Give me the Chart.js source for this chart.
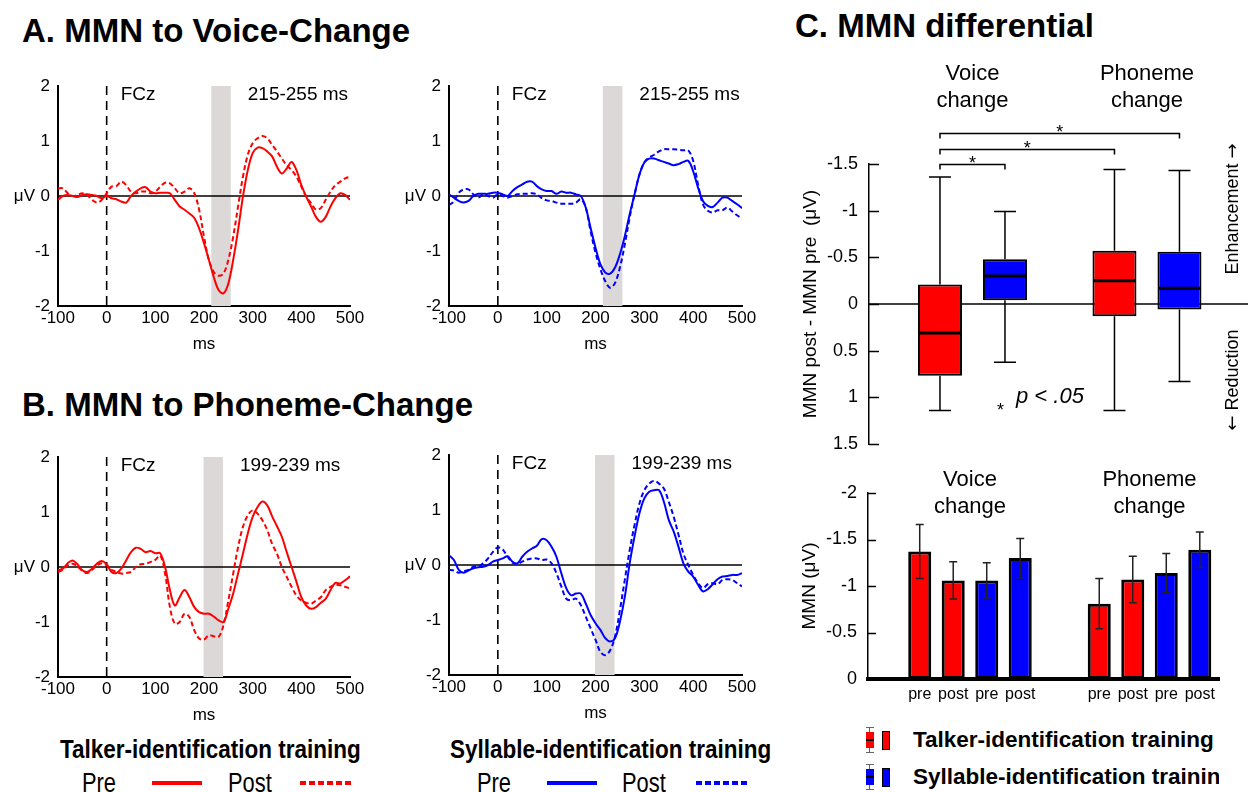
<!DOCTYPE html>
<html>
<head>
<meta charset="utf-8">
<script src="https://cdn.jsdelivr.net/npm/chart.js@4.4.1/dist/chart.umd.min.js"></script>
<style>
  body { margin: 0; width: 1248px; height: 792px; background: #fff; position: relative; overflow: hidden;
         font-family: "Liberation Sans", Arial, sans-serif; color: #000; }
  canvas { position: absolute; }
  .t { position: absolute; white-space: nowrap; line-height: 1; }
  .title { font-weight: bold; font-size: 33px; }
  .cond { transform-origin: 0 0; }
  .ico { position: absolute; }
</style>
</head>
<body>
<div class="t title" style="left:22px;top:14px">A. MMN to Voice-Change</div>
<div class="t title" style="left:22px;top:388px">B. MMN to Phoneme-Change</div>
<div class="t title" style="left:795px;top:9px">C. MMN differential</div>

<canvas id="aTalker"></canvas>
<canvas id="aSyllable"></canvas>
<canvas id="bTalker"></canvas>
<canvas id="bSyllable"></canvas>
<canvas id="diffBox"></canvas>
<canvas id="mmnBars"></canvas>

<!-- legends under the ERP panels -->
<div class="t cond" style="left:60px;top:736px;font-weight:bold;font-size:26px;transform:scaleX(.865)">Talker-identification training</div>
<div class="t cond" style="left:82px;top:770px;font-size:27px;transform:scaleX(.81)">Pre</div>
<div class="ico" style="left:152px;top:781px;width:50px;height:4px;background:#ff0000"></div>
<div class="t cond" style="left:228px;top:770px;font-size:27px;transform:scaleX(.81)">Post</div>
<div class="ico" style="left:300px;top:781px;width:52px;height:4px;background:repeating-linear-gradient(90deg,#ff0000 0 6px,transparent 6px 9px)"></div>

<div class="t cond" style="left:450px;top:736px;font-weight:bold;font-size:26px;transform:scaleX(.865)">Syllable-identification training</div>
<div class="t cond" style="left:477px;top:770px;font-size:27px;transform:scaleX(.81)">Pre</div>
<div class="ico" style="left:547px;top:781px;width:50px;height:4px;background:#0000ff"></div>
<div class="t cond" style="left:622px;top:770px;font-size:27px;transform:scaleX(.81)">Post</div>
<div class="ico" style="left:696px;top:781px;width:52px;height:4px;background:repeating-linear-gradient(90deg,#0000ff 0 6px,transparent 6px 9px)"></div>

<div id="legendC"></div>

<script>
// ---- ERP waveforms at FCz (μV), sampled every 10 ms ----
const times = [-100, -90, -80, -70, -60, -50, -40, -30, -20, -10,
  0, 10, 20, 30, 40, 50, 60, 70, 80, 90,
  100, 110, 120, 130, 140, 150, 160, 170, 180, 190,
  200, 210, 220, 230, 240, 250, 260, 270, 280, 290,
  300, 310, 320, 330, 340, 350, 360, 370, 380, 390,
  400, 410, 420, 430, 440, 450, 460, 470, 480, 490, 500];

const voiceTalkerPre = [-0.07, 0, 0.02, 0, -0.02, 0.02, 0.03, 0.02, 0, -0.04,
  0, -0.04, -0.06, -0.1, -0.12, 0, 0.08, 0.14, 0.16, 0.08,
  0.05, 0.06, 0.06, 0.05, -0.07, -0.19, -0.25, -0.32, -0.4, -0.59,
  -0.86, -1.16, -1.47, -1.71, -1.77, -1.59, -1.16, -0.62, -0.01, 0.47,
  0.78, 0.88, 0.87, 0.81, 0.72, 0.53, 0.41, 0.5, 0.62, 0.47,
  0.2, -0.01, -0.19, -0.38, -0.47, -0.38, -0.19, -0.04, 0.05, 0.02, -0.07];
const voiceTalkerPost = [0.14, 0.14, 0.05, 0, 0.02, 0.05, 0.02, -0.07, -0.12, -0.07,
  0.05, 0.17, 0.18, 0.26, 0.2, 0.08, 0.05, 0.08, 0.08, 0.05,
  0.08, 0.17, 0.24, 0.23, 0.14, 0.05, 0.08, 0.14, 0.05, -0.25,
  -0.74, -1.16, -1.38, -1.45, -1.41, -1.16, -0.74, -0.19, 0.35, 0.75,
  0.96, 1.05, 1.09, 1.05, 0.93, 0.81, 0.68, 0.56, 0.47, 0.35,
  0.17, -0.01, -0.13, -0.25, -0.22, -0.07, 0.08, 0.2, 0.26, 0.32, 0.35];
const voiceSyllablePre = [0.03, -0.03, -0.09, -0.12, -0.09, 0, 0.04, 0.04, 0.04, 0.06,
  0.06, 0.03, 0, 0.09, 0.16, 0.21, 0.26, 0.26, 0.18, 0.12,
  0.09, 0.09, 0.04, 0.08, 0.06, 0.06, 0.03, 0, -0.21, -0.58,
  -0.94, -1.24, -1.39, -1.41, -1.3, -1.06, -0.73, -0.33, 0.03, 0.39,
  0.61, 0.68, 0.68, 0.65, 0.62, 0.59, 0.56, 0.58, 0.62, 0.64,
  0.45, 0.15, -0.09, -0.18, -0.2, -0.12, -0.03, -0.03, -0.09, -0.15, -0.22];
const voiceSyllablePost = [-0.16, -0.1, 0.06, 0.12, 0.12, 0.03, -0.03, 0.03, 0, -0.03,
  0.03, 0, -0.03, 0, 0.03, 0.04, 0.04, 0.05, 0.03, -0.04,
  -0.08, -0.09, -0.12, -0.14, -0.14, -0.14, -0.12, -0.06, -0.21, -0.64,
  -1.03, -1.33, -1.55, -1.67, -1.58, -1.3, -0.88, -0.39, 0.03, 0.39,
  0.61, 0.7, 0.75, 0.81, 0.85, 0.85, 0.85, 0.84, 0.83, 0.83,
  0.64, 0.21, -0.15, -0.27, -0.3, -0.26, -0.26, -0.21, -0.28, -0.35, -0.41];
const phonemeTalkerPre = [-0.06, -0.03, 0.07, 0.12, 0.05, -0.06, -0.09, -0.03, 0.06, 0.11,
  0.05, -0.09, -0.11, -0.03, 0.12, 0.27, 0.35, 0.33, 0.27, 0.29,
  0.25, 0.25, 0, -0.42, -0.7, -0.55, -0.42, -0.55, -0.73, -0.82,
  -0.85, -0.85, -0.9, -0.97, -1.0, -0.76, -0.48, -0.12, 0.24, 0.61,
  0.91, 1.09, 1.19, 1.12, 0.92, 0.74, 0.55, 0.27, 0, -0.27,
  -0.55, -0.7, -0.76, -0.73, -0.65, -0.58, -0.42, -0.29, -0.3, -0.24, -0.17];
const phonemeTalkerPost = [-0.09, -0.05, 0.03, 0.06, 0.01, -0.07, -0.11, -0.05, 0.03, 0.07,
  0.03, -0.05, -0.09, -0.12, -0.11, -0.09, 0, 0.05, 0.06, 0.09,
  0.13, 0.21, -0.12, -0.73, -1.03, -1.0, -0.85, -0.91, -1.15, -1.3,
  -1.32, -1.24, -1.26, -1.27, -1.06, -0.61, -0.12, 0.36, 0.73, 0.94,
  1.03, 0.97, 0.85, 0.67, 0.42, 0.24, 0, -0.18, -0.36, -0.52,
  -0.61, -0.65, -0.67, -0.61, -0.55, -0.42, -0.36, -0.33, -0.33, -0.36, -0.39];
const phonemeSyllablePre = [0.18, 0.09, -0.09, -0.14, -0.1, -0.06, -0.04, -0.03, 0, 0.06,
  0.09, 0.12, 0.16, 0.06, 0.03, 0.15, 0.24, 0.3, 0.35, 0.47,
  0.45, 0.33, 0.15, -0.15, -0.42, -0.55, -0.52, -0.52, -0.7, -0.91,
  -1.06, -1.18, -1.33, -1.39, -1.33, -1.03, -0.58, 0.03, 0.52, 0.94,
  1.21, 1.33, 1.36, 1.36, 1.15, 0.82, 0.61, 0.33, 0.03, -0.12,
  -0.21, -0.36, -0.48, -0.44, -0.35, -0.26, -0.21, -0.2, -0.18, -0.18, -0.15];
const phonemeSyllablePost = [-0.09, -0.1, -0.14, -0.11, -0.09, -0.03, -0.02, 0.03, 0.12, 0.24,
  0.32, 0.28, 0.15, 0.04, 0.02, 0.06, 0.1, 0.12, 0.12, 0.09,
  0.1, 0.03, -0.15, -0.39, -0.61, -0.64, -0.61, -0.73, -0.94, -1.15,
  -1.36, -1.58, -1.64, -1.55, -1.3, -0.82, -0.27, 0.27, 0.73, 1.12,
  1.36, 1.48, 1.53, 1.48, 1.39, 1.15, 0.88, 0.55, 0.21, 0,
  -0.18, -0.33, -0.42, -0.35, -0.33, -0.35, -0.27, -0.26, -0.27, -0.33, -0.39];

const voiceWindow = [215, 255];
const phonemeWindow = [199, 239];

// ---- C: MMN differential boxplots (post - pre, μV) ----
const groups = ['Voice change', 'Phoneme change'];
const groupX = [1, 2];
// [upper whisker, box top, median, box bottom, lower whisker]
const talkerBox = [[-1.36, -0.21, 0.31, 0.77, 1.14], [-1.44, -0.57, -0.25, 0.13, 1.14]];
const syllableBox = [[-0.99, -0.48, -0.30, -0.04, 0.625], [-1.43, -0.56, -0.17, 0.06, 0.83]];

// ---- C: MMN amplitudes (μV) with error bars ----
const stageLabels = ['pre', 'post', 'pre', 'post'];
const talkerPre = [-1.37, -0.81];
const talkerPost = [-1.06, -1.07];
const syllablePre = [-1.06, -1.14];
const syllablePost = [-1.30, -1.39];
const talkerPreErr = [0.29, 0.27];
const talkerPostErr = [0.20, 0.25];
const syllablePreErr = [0.19, 0.21];
const syllablePostErr = [0.21, 0.19];

const RED = '#ff0000', BLUE = '#0000ff';
const FONT = "'Liberation Sans', Arial, sans-serif";
Chart.defaults.font.family = FONT;
Chart.defaults.color = '#000';

// plain tick text: -1 rather than -1.0
const plainTick = v => String(Math.round(v * 10) / 10);

function fitCanvas(el, area, pad, axisW, axisH) {
  el.width = pad.left + axisW + (area[2] - area[0]) + pad.right;
  el.height = pad.top + (area[3] - area[1]) + axisH + pad.bottom;
  el.style.left = (area[0] - axisW - pad.left) + 'px';
  el.style.top = (area[1] - pad.top) + 'px';
}

const erpMarks = {
  id: 'erp',
  beforeDatasetsDraw(chart, args, opts) {
    const { ctx, chartArea: a, scales: { x, y } } = chart;
    ctx.save();
    const x0 = x.getPixelForValue(opts.win[0]), x1 = x.getPixelForValue(opts.win[1]);
    ctx.fillStyle = '#dcd8d8';
    ctx.fillRect(x0, a.top, x1 - x0, a.bottom - a.top);
    ctx.strokeStyle = '#000';
    ctx.lineWidth = 1.6;
    const y0 = y.getPixelForValue(0);
    ctx.beginPath(); ctx.moveTo(a.left, y0); ctx.lineTo(a.right, y0); ctx.stroke();
    const xz = x.getPixelForValue(0);
    ctx.setLineDash([9, 6]);
    ctx.beginPath(); ctx.moveTo(xz, a.top); ctx.lineTo(xz, a.bottom); ctx.stroke();
    ctx.restore();
  },
  afterDraw(chart, args, opts) {
    const { ctx, chartArea: a, scales: { x, y } } = chart;
    ctx.save();
    ctx.fillStyle = '#000';
    ctx.textBaseline = 'middle';
    ctx.font = '19px ' + FONT;
    ctx.textAlign = 'left';
    ctx.fillText('FCz', x.getPixelForValue(0) + 14, a.top + 9);
    ctx.fillText(opts.win[0] + '-' + opts.win[1] + ' ms', x.getPixelForValue(opts.win[1]) + 17, a.top + 9);
    ctx.font = '17px ' + FONT;
    ctx.textAlign = 'right';
    ctx.fillText('μV', a.left - 23, y.getPixelForValue(0));
    ctx.restore();
  }
};

function erpChart(id, area, pre, post, color, win) {
  const el = document.getElementById(id);
  const pad = { left: 4, top: 20, right: 22, bottom: 4 };
  const axisW = 46, axisH = 50;
  fitCanvas(el, area, pad, axisW, axisH);
  return new Chart(el, {
    type: 'line',
    data: {
      labels: times,
      datasets: [
        { label: 'Pre', data: pre, borderColor: color, borderWidth: 2, pointRadius: 0, tension: 0.35 },
        { label: 'Post', data: post, borderColor: color, borderWidth: 2, borderDash: [5, 3], pointRadius: 0, tension: 0.35 }
      ]
    },
    options: {
      responsive: false, devicePixelRatio: 1, animation: false,
      layout: { padding: pad },
      plugins: { legend: { display: false }, tooltip: { enabled: false }, erp: { win } },
      scales: {
        x: {
          type: 'linear', min: -100, max: 500,
          ticks: { stepSize: 100, padding: 2, maxRotation: 0, font: { size: 17 } },
          grid: { display: false, drawTicks: false },
          border: { color: '#000', width: 2 },
          title: { display: true, text: 'ms', font: { size: 17 }, padding: { top: 0, bottom: 1 } },
          afterFit(s) { s.height = axisH; }
        },
        y: {
          min: -2, max: 2,
          ticks: { stepSize: 1, padding: 8, font: { size: 17 } },
          grid: { display: false, drawTicks: false },
          border: { color: '#000', width: 2 },
          afterFit(s) { s.width = axisW; }
        }
      }
    },
    plugins: [erpMarks]
  });
}

erpChart('aTalker', [58, 86, 350, 306], voiceTalkerPre, voiceTalkerPost, RED, voiceWindow);
erpChart('aSyllable', [449, 86, 742, 306], voiceSyllablePre, voiceSyllablePost, BLUE, voiceWindow);
erpChart('bTalker', [58, 457, 350, 677], phonemeTalkerPre, phonemeTalkerPost, RED, phonemeWindow);
erpChart('bSyllable', [449, 455, 742, 675], phonemeSyllablePre, phonemeSyllablePost, BLUE, phonemeWindow);

// shared helpers for panel C
function drawInwardTicks(chart, len) {
  const { ctx, chartArea: a, scales: { y } } = chart;
  ctx.save();
  ctx.strokeStyle = '#000'; ctx.lineWidth = 1.5;
  y.ticks.forEach(t => {
    const py = Math.round(y.getPixelForValue(t.value)) + 0.5;
    ctx.beginPath(); ctx.moveTo(a.left, py); ctx.lineTo(a.left + len, py); ctx.stroke();
  });
  ctx.restore();
}
function drawGroupLabels(chart, y1, y2) {
  const { ctx, scales: { x } } = chart;
  ctx.save();
  ctx.fillStyle = '#000'; ctx.font = '22px ' + FONT;
  ctx.textAlign = 'center'; ctx.textBaseline = 'middle';
  groups.forEach((g, i) => {
    const [w1, w2] = g.split(' ');
    const px = x.getPixelForValue(groupX[i]);
    ctx.fillText(w1, px, y1);
    ctx.fillText(w2, px, y2);
  });
  ctx.restore();
}
// rotated label with a DejaVu arrow (Liberation's arrow is tiny)
function drawArrowLabel(ctx, word, arrowFirst, cx, cy) {
  ctx.save();
  ctx.translate(cx, cy);
  ctx.rotate(-Math.PI / 2);
  ctx.textBaseline = 'middle';
  ctx.textAlign = 'left';
  const wf = '18px ' + FONT, af = "18px 'DejaVu Sans', sans-serif";
  ctx.font = wf; const ww = ctx.measureText(word).width, sp = ctx.measureText(' ').width;
  ctx.font = af; const aw = ctx.measureText('\u2192').width;
  let px = -(ww + sp + aw) / 2;
  const parts = arrowFirst ? [['\u2190', af, aw], [word, wf, ww]] : [[word, wf, ww], ['\u2192', af, aw]];
  parts.forEach(([s, f, w], k) => {
    ctx.font = f; ctx.fillText(s, px, 0);
    px += w + (k === 0 ? sp : 0);
  });
  ctx.restore();
}

// ---- boxplot (floating bars + whiskers) ----
const boxStats = [talkerBox, syllableBox];
const sigPairs = [[[0, 0], [1, 0]], [[0, 0], [0, 1]], [[0, 0], [1, 1]]];

const boxMarks = {
  id: 'boxMarks',
  beforeDatasetsDraw(chart) {
    const { ctx, chartArea: a, scales: { y } } = chart;
    ctx.save();
    ctx.strokeStyle = '#000'; ctx.lineWidth = 1.5;
    const y0 = y.getPixelForValue(0);
    ctx.beginPath(); ctx.moveTo(a.left, y0); ctx.lineTo(a.right, y0); ctx.stroke();
    ctx.restore();
  },
  afterDatasetsDraw(chart) {
    const { ctx, scales: { y } } = chart;
    ctx.save();
    ctx.strokeStyle = '#000';
    boxStats.forEach((stats, di) => {
      chart.getDatasetMeta(di).data.forEach((bar, i) => {
        const s = stats[i], x = bar.x, hw = bar.width / 2;
        ctx.lineWidth = 1.5;
        ctx.beginPath();
        ctx.moveTo(x, y.getPixelForValue(s[0])); ctx.lineTo(x, y.getPixelForValue(s[1]));
        ctx.moveTo(x, y.getPixelForValue(s[3])); ctx.lineTo(x, y.getPixelForValue(s[4]));
        ctx.moveTo(x - 11, y.getPixelForValue(s[0])); ctx.lineTo(x + 11, y.getPixelForValue(s[0]));
        ctx.moveTo(x - 11, y.getPixelForValue(s[4])); ctx.lineTo(x + 11, y.getPixelForValue(s[4]));
        ctx.stroke();
        ctx.lineWidth = 3;
        ctx.beginPath();
        ctx.moveTo(x - hw + 1, y.getPixelForValue(s[2])); ctx.lineTo(x + hw - 1, y.getPixelForValue(s[2]));
        ctx.stroke();
      });
    });
    ctx.restore();
  },
  afterDraw(chart) {
    const { ctx, chartArea: a, scales: { y } } = chart;
    drawInwardTicks(chart, 10);
    drawGroupLabels(chart, a.top - 90, a.top - 63);
    ctx.save();
    ctx.strokeStyle = '#000'; ctx.fillStyle = '#000'; ctx.lineWidth = 1.5;
    ctx.textAlign = 'center'; ctx.textBaseline = 'alphabetic';
    sigPairs.forEach((p, k) => {
      const b1 = chart.getDatasetMeta(p[0][0]).data[p[0][1]];
      const b2 = chart.getDatasetMeta(p[1][0]).data[p[1][1]];
      const by = Math.round(a.top - k * 15.5) + 0.5;
      ctx.beginPath();
      ctx.moveTo(b1.x, by + 5); ctx.lineTo(b1.x, by); ctx.lineTo(b2.x, by); ctx.lineTo(b2.x, by + 5);
      ctx.stroke();
      ctx.font = '18px ' + FONT;
      ctx.fillText('*', (b1.x + b2.x) / 2, by + 4);
    });
    // significance note
    ctx.textAlign = 'left';
    ctx.font = '18px ' + FONT;
    ctx.fillText('*', a.left + 128, y.getPixelForValue(1.1) + 9);
    ctx.font = 'italic 22px ' + FONT;
    ctx.textBaseline = 'middle';
    ctx.fillText('p < .05', a.left + 147, y.getPixelForValue(1.0));
    ctx.restore();
    // direction labels
    const y0 = y.getPixelForValue(0);
    ctx.fillStyle = '#000';
    drawArrowLabel(ctx, 'Enhancement', false, a.right - 15, y0 - 95);
    drawArrowLabel(ctx, 'Reduction', true, a.right - 15, y0 + 76);
  }
};

(function () {
  const el = document.getElementById('diffBox');
  const pad = { left: 0, top: 109, right: 0, bottom: 24 };
  fitCanvas(el, [869, 164, 1248, 444], pad, 70, 0);
  const boxStyle = { borderColor: '#000', borderWidth: 2, borderSkipped: false, categoryPercentage: 0.745, barPercentage: 0.677 };
  new Chart(el, {
    type: 'bar',
    data: {
      datasets: [
        Object.assign({ label: 'Talker-identification training', backgroundColor: RED,
          data: groupX.map((g, i) => ({ x: g, y: [talkerBox[i][1], talkerBox[i][3]] })) }, boxStyle),
        Object.assign({ label: 'Syllable-identification training', backgroundColor: BLUE,
          data: groupX.map((g, i) => ({ x: g, y: [syllableBox[i][1], syllableBox[i][3]] })) }, boxStyle)
      ]
    },
    options: {
      responsive: false, devicePixelRatio: 1, animation: false,
      layout: { padding: pad },
      plugins: { legend: { display: false }, tooltip: { enabled: false } },
      scales: {
        x: { type: 'linear', display: false, offset: false, min: 0.407, max: 2.579, ticks: { stepSize: 10 } },
        y: {
          reverse: true, min: -1.5, max: 1.5,
          ticks: { stepSize: 0.5, padding: 11, font: { size: 18 }, callback: plainTick },
          grid: { display: false, drawTicks: false },
          border: { color: '#000', width: 1.5 },
          title: { display: true, text: 'MMN post - MMN pre  (μV)', font: { size: 19 }, padding: 0 },
          afterFit(s) { s.width = 70; }
        }
      }
    },
    plugins: [boxMarks]
  });
})();

// ---- MMN bars with error bars ----
const barErrs = [talkerPreErr, talkerPostErr, syllablePreErr, syllablePostErr];
const barMarks = {
  id: 'barMarks',
  afterDatasetsDraw(chart) {
    const { ctx, chartArea: a, scales: { y } } = chart;
    ctx.save();
    ctx.strokeStyle = '#222'; ctx.lineWidth = 1.5;
    chart.data.datasets.forEach((ds, di) => {
      chart.getDatasetMeta(di).data.forEach((bar, i) => {
        const v = ds.data[i].y, e = barErrs[di][i];
        const y1 = y.getPixelForValue(v - e), y2 = y.getPixelForValue(v + e);
        ctx.beginPath();
        ctx.moveTo(bar.x, y1); ctx.lineTo(bar.x, y2);
        ctx.moveTo(bar.x - 4, y1); ctx.lineTo(bar.x + 4, y1);
        ctx.moveTo(bar.x - 4, y2); ctx.lineTo(bar.x + 4, y2);
        ctx.stroke();
      });
    });
    ctx.fillStyle = '#000'; ctx.font = '16px ' + FONT;
    ctx.textAlign = 'center'; ctx.textBaseline = 'middle';
    chart.data.datasets.forEach((ds, di) => {
      chart.getDatasetMeta(di).data.forEach(bar => ctx.fillText(stageLabels[di], bar.x, a.bottom + 16));
    });
    ctx.restore();
  },
  afterDraw(chart) {
    const a = chart.chartArea;
    drawInwardTicks(chart, 8);
    drawGroupLabels(chart, a.top - 13, a.top + 14);
  }
};

(function () {
  const el = document.getElementById('mmnBars');
  const pad = { left: 0, top: 33, right: 29, bottom: 3 };
  fitCanvas(el, [868, 493, 1219, 679], pad, 70, 28);
  const barStyle = { borderColor: '#000', borderWidth: 3, borderSkipped: false, categoryPercentage: 0.7465, barPercentage: 0.687 };
  const series = [[talkerPre, RED], [talkerPost, RED], [syllablePre, BLUE], [syllablePost, BLUE]];
  new Chart(el, {
    type: 'bar',
    data: {
      datasets: series.map(([vals, col], k) => Object.assign({
        label: stageLabels[k], backgroundColor: col,
        data: groupX.map((g, i) => ({ x: g, y: vals[i] }))
      }, barStyle))
    },
    options: {
      responsive: false, devicePixelRatio: 1, animation: false,
      layout: { padding: pad },
      plugins: { legend: { display: false }, tooltip: { enabled: false } },
      scales: {
        x: {
          type: 'linear', offset: false, min: 0.432, max: 2.387,
          ticks: { display: false, stepSize: 10 },
          grid: { display: false, drawTicks: false },
          border: { color: '#000', width: 4 },
          afterFit(s) { s.height = 28; }
        },
        y: {
          reverse: true, min: -2, max: 0,
          ticks: { stepSize: 0.5, padding: 11, font: { size: 18 }, callback: plainTick },
          grid: { display: false, drawTicks: false },
          border: { color: '#000', width: 1.5 },
          title: { display: true, text: 'MMN (μV)', font: { size: 19 }, padding: 0 },
          afterFit(s) { s.width = 70; }
        }
      }
    },
    plugins: [barMarks]
  });
})();

// ---- legend for panel C ----
(function () {
  const box = document.getElementById('legendC');
  const rows = [[RED, 'Talker-identification training', 740], [BLUE, 'Syllable-identification training', 777]];
  let html = '';
  rows.forEach(([col, txt, cy]) => {
    html += `<div class="ico" style="left:869px;top:${cy - 13}px;width:1px;height:26px;background:#666"></div>`;
    html += `<div class="ico" style="left:866px;top:${cy - 13}px;width:8px;height:1px;background:#666"></div>`;
    html += `<div class="ico" style="left:866px;top:${cy + 12}px;width:8px;height:1px;background:#666"></div>`;
    html += `<div class="ico" style="left:866px;top:${cy - 8}px;width:8px;height:16px;background:${col}"></div>`;
    html += `<div class="ico" style="left:866px;top:${cy - 1}px;width:8px;height:1.5px;background:#000"></div>`;
    html += `<div class="ico" style="left:882px;top:${cy - 9}px;width:8px;height:19px;background:${col};border:1px solid #000;box-sizing:border-box"></div>`;
    html += `<div class="t" style="left:913px;top:${cy - 11}px;width:306px;overflow:hidden;font-weight:bold;font-size:22.5px">${txt}</div>`;
  });
  box.innerHTML = html;
})();
</script>
</body>
</html>
